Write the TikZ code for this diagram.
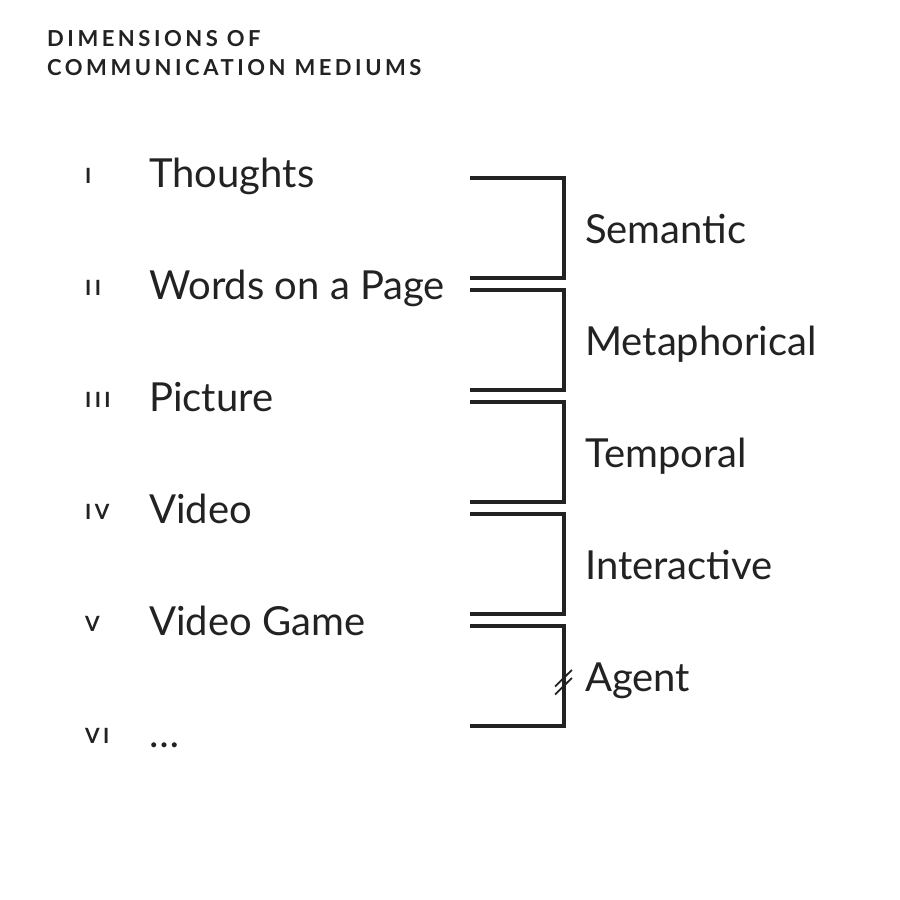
\documentclass[tikz,border=0pt]{standalone}
\usepackage{fontspec}
\setmainfont{Lato}
\newfontfamily\headfont[LetterSpace=16]{Lato}
\usepackage{xcolor}
\usepackage{tikz}
\usetikzlibrary{positioning}
\definecolor{inkgray}{RGB}{34,34,34}
\tikzset{
    heading/.style={anchor=north west, inner sep=0pt, align=left, text=inkgray,
                    font=\headfont\bfseries\fontsize{22}{29}\selectfont},
    numeral/.style={anchor=base west, inner sep=0pt, text=inkgray,
                    font=\headfont\bfseries\fontsize{21}{20}\selectfont},
    medium/.style={anchor=base west, inner sep=0pt, text=inkgray,
                   font=\fontsize{40}{40}\selectfont},
    dimension/.style={anchor=base west, inner sep=0pt, text=inkgray,
                      font=\fontsize{40}{40}\selectfont},
    bracket/.style={draw=inkgray, line width=3.4pt},
    breakmark/.style={draw=inkgray, line width=1.8pt}
}

\begin{document}
\begin{tikzpicture}[x=1pt, y=-1pt]
    \useasboundingbox (0,0) rectangle (900,900);

    % Heading
    \node[heading] (title) at (47,30) {DIMENSIONS OF\\COMMUNICATION MEDIUMS};

    % Numerals
    \node[numeral] (n1) at (85,183) {I};
    \node[numeral] (n2) at (85,295) {II};
    \node[numeral] (n3) at (85,407) {III};
    \node[numeral] (n4) at (85,519) {IV};
    \node[numeral] (n5) at (85,631) {V};
    \node[numeral] (n6) at (85,743) {VI};

    % Mediums
    \node[medium] (thoughts) at (149,187) {Thoughts};
    \node[medium] (words) at (149,299) {Words on a Page};
    \node[medium] (picture) at (149,411) {Picture};
    \node[medium] (video) at (149,523) {Video};
    \node[medium] (game) at (149,635) {Video Game};
    \node[medium] (more) at (149,747) {…};

    % Dimensions
    \node[dimension] (semantic) at (585,243) {Semantic};
    \node[dimension] (metaphorical) at (585,355) {Metaphorical};
    \node[dimension] (temporal) at (585,467) {Temporal};
    \node[dimension] (interactive) at (585,579) {Interactive};
    \node[dimension] (agent) at (585,691) {Agent};

    % Bracket ends
    \coordinate (b1t) at (470,178); \coordinate (b1b) at (470,278);
    \coordinate (b2t) at (470,290); \coordinate (b2b) at (470,390);
    \coordinate (b3t) at (470,402); \coordinate (b3b) at (470,502);
    \coordinate (b4t) at (470,514); \coordinate (b4b) at (470,614);
    \coordinate (b5t) at (470,626); \coordinate (b5b) at (470,726);
    \coordinate (agentbreak) at (563.5,682.3);

    % Brackets
    \draw[bracket] (b1t) -- ++(94,0) |- (b1b);
    \draw[bracket] (b2t) -- ++(94,0) |- (b2b);
    \draw[bracket] (b3t) -- ++(94,0) |- (b3b);
    \draw[bracket] (b4t) -- ++(94,0) |- (b4b);
    \draw[bracket] (b5t) -- ++(94,0) |- (b5b);

    % Break on the agent bracket
    \draw[breakmark] ([shift={(-8.4,4.2)}]agentbreak) -- ++(16.8,-16.6);
    \draw[breakmark] ([shift={(-8.4,12.2)}]agentbreak) -- ++(16.8,-16.6);
\end{tikzpicture}
\end{document}
